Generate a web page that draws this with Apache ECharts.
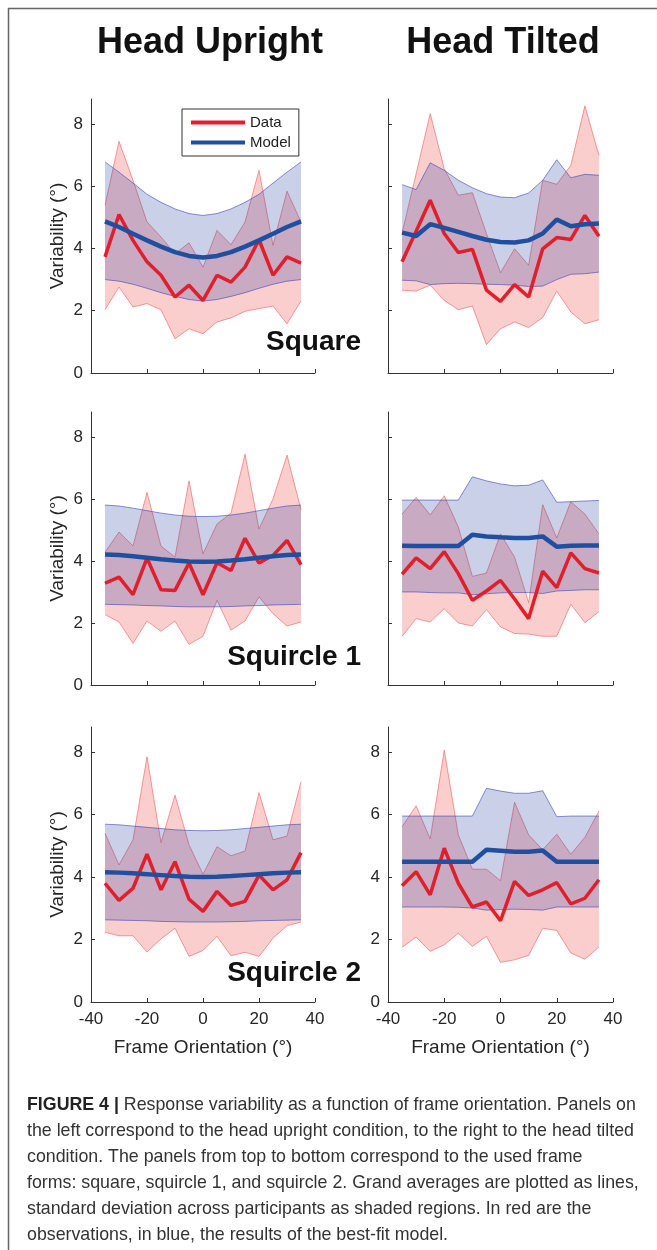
<!DOCTYPE html>
<html>
<head>
<meta charset="utf-8">
<script src="https://cdn.jsdelivr.net/npm/echarts@6/dist/echarts.min.js"></script>
<style>
html,body{margin:0;padding:0;background:#fff;}
#c{width:657px;height:1250px;}
</style>
</head>
<body>
<div id="c"></div>
<script>
// Frame orientations (deg)
const orient = [-35,-30,-25,-20,-15,-10,-5,0,5,10,15,20,25,30,35];
const xTicks = [-40,-20,0,20,40];
const yTicks = [0,2,4,6,8];

// Head upright, Square
const upSqData   = [3.73,5.09,4.26,3.57,3.14,2.44,2.82,2.33,3.14,2.92,3.40,4.28,3.14,3.73,3.53];
const upSqHi     = [5.39,7.44,6.19,4.85,4.37,3.83,4.18,3.40,4.58,4.12,4.85,6.51,4.10,5.84,4.85];
const upSqLo     = [2.03,2.76,2.12,2.23,2.03,1.10,1.42,1.26,1.64,1.77,1.98,2.07,2.15,1.58,2.31];
const upSqModel  = [4.87,4.69,4.47,4.26,4.06,3.88,3.76,3.71,3.76,3.88,4.06,4.26,4.47,4.69,4.87];
const upSqModHi  = [6.78,6.45,6.10,5.74,5.48,5.27,5.12,5.06,5.12,5.27,5.48,5.74,6.10,6.45,6.78];
const upSqModLo  = [3.00,2.95,2.85,2.72,2.58,2.46,2.36,2.31,2.36,2.46,2.58,2.72,2.85,2.95,3.00];

// Head tilted, Square
const tiSqData   = [3.57,4.55,5.55,4.48,3.87,3.97,2.66,2.30,2.84,2.44,3.99,4.35,4.29,5.06,4.39];
const tiSqHi     = [4.50,6.40,8.33,6.56,5.71,5.79,4.48,3.22,3.99,3.46,6.19,6.06,6.67,8.58,6.99];
const tiSqLo     = [2.66,2.63,2.82,2.33,2.03,2.15,0.91,1.42,1.64,1.46,1.78,2.63,1.96,1.58,1.71];
const tiSqModel  = [4.51,4.40,4.78,4.66,4.53,4.40,4.28,4.21,4.19,4.26,4.48,4.93,4.71,4.78,4.80];
const tiSqModHi  = [6.05,5.89,6.75,6.51,6.19,5.95,5.76,5.65,5.63,5.78,6.19,6.85,6.27,6.38,6.35];
const tiSqModLo  = [2.98,2.96,2.84,2.87,2.88,2.87,2.85,2.84,2.82,2.78,2.79,3.00,3.17,3.19,3.24];

// Head upright, Squircle 1
const upS1Data   = [3.28,3.48,2.91,4.09,3.07,3.05,3.93,2.91,3.94,3.69,4.73,3.93,4.18,4.66,3.88];
const upS1Hi     = [4.28,4.93,4.48,6.21,4.48,4.12,6.58,4.23,5.19,5.54,7.44,5.03,6.00,7.41,5.65];
const upS1Lo     = [2.27,2.03,1.34,2.06,1.73,2.06,1.31,1.57,2.73,1.77,2.06,2.84,2.30,1.90,2.03];
const upS1Model  = [4.21,4.19,4.15,4.10,4.05,4.01,3.98,3.97,3.98,4.01,4.05,4.10,4.15,4.19,4.21];
const upS1ModHi  = [5.80,5.77,5.70,5.62,5.54,5.48,5.44,5.43,5.44,5.48,5.54,5.62,5.70,5.77,5.80];
const upS1ModLo  = [2.60,2.59,2.58,2.56,2.55,2.53,2.52,2.52,2.52,2.53,2.55,2.56,2.58,2.59,2.60];

// Head tilted, Squircle 1
const tiS1Data   = [3.57,4.10,3.75,4.30,3.59,2.73,3.03,3.37,2.77,2.14,3.67,3.14,4.26,3.75,3.61];
const tiS1Hi     = [5.51,6.05,5.48,6.10,5.09,3.50,3.61,4.87,4.12,2.66,5.81,4.74,5.91,5.51,4.87];
const tiS1Lo     = [1.57,2.14,2.03,2.46,2.00,1.90,2.43,1.87,1.66,1.64,1.57,1.57,2.60,2.01,2.36];
const tiS1Model  = [4.49,4.48,4.48,4.48,4.48,4.84,4.79,4.76,4.74,4.74,4.79,4.46,4.49,4.50,4.50];
const tiS1ModHi  = [5.96,5.96,5.96,5.96,5.96,6.71,6.58,6.48,6.42,6.44,6.61,5.89,5.91,5.93,5.95];
const tiS1ModLo  = [3.00,3.00,2.98,2.97,2.97,2.91,2.94,2.97,2.98,2.98,2.95,3.03,3.05,3.07,3.07];

// Head upright, Squircle 2
const upS2Data   = [3.80,3.25,3.64,4.73,3.59,4.49,3.29,2.90,3.54,3.09,3.22,4.06,3.59,3.91,4.78];
const upS2Hi     = [5.40,4.39,5.19,7.85,5.10,6.62,5.03,4.09,4.97,4.68,4.83,6.70,5.19,5.31,7.05];
const upS2Lo     = [2.23,2.12,2.12,1.60,2.02,2.36,1.46,1.65,2.10,1.48,1.59,1.46,2.04,2.44,2.56];
const upS2Model  = [4.15,4.14,4.12,4.09,4.06,4.03,4.01,4.00,4.01,4.03,4.06,4.09,4.12,4.14,4.15];
const upS2ModHi  = [5.69,5.67,5.63,5.59,5.55,5.51,5.49,5.48,5.49,5.51,5.55,5.59,5.63,5.67,5.69];
const upS2ModLo  = [2.63,2.62,2.61,2.60,2.58,2.57,2.56,2.56,2.56,2.57,2.58,2.60,2.61,2.62,2.63];

// Head tilted, Squircle 2
const tiS2Data   = [3.72,4.17,3.43,4.92,3.80,3.04,3.20,2.60,3.86,3.41,3.59,3.82,3.14,3.32,3.91];
const tiS2Hi     = [5.61,6.28,5.22,8.06,5.35,4.25,4.25,3.88,6.39,5.35,4.87,5.37,4.73,5.27,6.11];
const tiS2Lo     = [1.75,2.08,1.62,1.83,2.20,1.78,2.10,1.27,1.35,1.49,2.36,2.29,1.57,1.37,1.76];
const tiS2Model  = [4.49,4.49,4.49,4.49,4.49,4.49,4.87,4.84,4.81,4.81,4.85,4.49,4.49,4.49,4.49];
const tiS2ModHi  = [5.95,5.95,5.95,5.95,5.95,5.95,6.84,6.75,6.68,6.68,6.76,5.93,5.95,5.95,5.95];
const tiS2ModLo  = [3.04,3.04,3.04,3.04,3.03,3.01,2.94,2.96,2.97,2.96,2.94,3.04,3.04,3.04,3.04];

const columnTitles = ['Head Upright','Head Tilted'];
const rowLabels = ['Square','Squircle 1','Squircle 2'];
const xName = 'Frame Orientation (°)';
const yName = 'Variability (°)';
const seriesNames = ['Data','Model'];
const captionLines = [
  '{b|FIGURE 4 |} Response variability as a function of frame orientation. Panels on',
  'the left correspond to the head upright condition, to the right to the head tilted',
  'condition. The panels from top to bottom correspond to the used frame',
  'forms: square, squircle 1, and squircle 2. Grand averages are plotted as lines,',
  'standard deviation across participants as shaded regions. In red are the',
  'observations, in blue, the results of the best-fit model.'
];

const panels = [
  [upSqData,upSqHi,upSqLo,upSqModel,upSqModHi,upSqModLo],
  [tiSqData,tiSqHi,tiSqLo,tiSqModel,tiSqModHi,tiSqModLo],
  [upS1Data,upS1Hi,upS1Lo,upS1Model,upS1ModHi,upS1ModLo],
  [tiS1Data,tiS1Hi,tiS1Lo,tiS1Model,tiS1ModHi,tiS1ModLo],
  [upS2Data,upS2Hi,upS2Lo,upS2Model,upS2ModHi,upS2ModLo],
  [tiS2Data,tiS2Hi,tiS2Lo,tiS2Model,tiS2ModHi,tiS2ModLo]
];

const FONT = "'Liberation Sans', Arial, Helvetica, sans-serif";
const AX = '#333333';
const RED = '#e11f2c', BLUE = '#1f4f9f';
const RED_FILL = 'rgba(240,60,60,0.25)', RED_EDGE = 'rgba(232,80,80,0.55)';
const BLUE_FILL = 'rgba(30,50,160,0.23)', BLUE_EDGE = 'rgba(60,70,180,0.6)';

const colLeft = [91, 388], colWidth = [224, 225];
const rowTop = [99, 412, 727], rowHeight = [274, 273, 275];

function bandSeries(gi, lo, hi, fill, edge, z) {
  return {
    type: 'custom', xAxisIndex: gi, yAxisIndex: gi, silent: true, z,
    data: orient.map((x, i) => [x, lo[i], hi[i]]),
    encode: {x: 0, y: [1, 2]},
    renderItem: function (params, api) {
      if (params.dataIndex !== 0) return null;
      const top = orient.map((x, i) => api.coord([x, hi[i]]));
      const bot = orient.map((x, i) => api.coord([x, lo[i]]));
      const poly = top.concat(bot.slice().reverse());
      return {
        type: 'group',
        children: [
          {type: 'polygon', shape: {points: poly}, style: {fill: fill, stroke: null}},
          {type: 'polyline', shape: {points: top}, style: {fill: null, stroke: edge, lineWidth: 1}},
          {type: 'polyline', shape: {points: bot}, style: {fill: null, stroke: edge, lineWidth: 1}}
        ]
      };
    }
  };
}

const grids = [], xAxes = [], yAxes = [], series = [];
panels.forEach((p, gi) => {
  const row = Math.floor(gi / 2), col = gi % 2;
  grids.push({left: colLeft[col], top: rowTop[row], width: colWidth[col], height: rowHeight[row], containLabel: false});
  const bottom = row === 2;
  xAxes.push({
    gridIndex: gi, type: 'value', min: -40, max: 40, interval: 20,
    axisLine: {onZero: false, lineStyle: {color: AX, width: 1}},
    axisTick: {inside: true, length: 4, lineStyle: {color: AX}},
    splitLine: {show: false},
    axisLabel: {show: bottom, fontSize: 17, color: '#262626', fontFamily: FONT, margin: 9},
    name: bottom ? xName : '', nameLocation: 'middle', nameGap: 36,
    nameTextStyle: {fontSize: 19, color: '#262626', fontFamily: FONT}
  });
  const showY = col === 0 || row === 2;
  yAxes.push({
    gridIndex: gi, type: 'value', min: 0, max: 8.8, interval: 2,
    axisLine: {show: true, onZero: false, lineStyle: {color: AX, width: 1}},
    axisTick: {show: true, inside: true, length: 4, lineStyle: {color: AX}, customValues: yTicks},
    splitLine: {show: false},
    axisLabel: {show: showY, fontSize: 17, color: '#262626', fontFamily: FONT, margin: 8, customValues: yTicks},
    name: col === 0 ? yName : '', nameLocation: 'middle', nameGap: 24,
    nameTextStyle: {fontSize: 19, color: '#262626', fontFamily: FONT}
  });
  const [d, dh, dl, m, mh, ml] = p;
  series.push(bandSeries(gi, dl, dh, RED_FILL, RED_EDGE, 2));
  series.push(bandSeries(gi, ml, mh, BLUE_FILL, BLUE_EDGE, 3));
  series.push({type: 'line', name: seriesNames[0], xAxisIndex: gi, yAxisIndex: gi, symbol: 'none', z: 4,
    itemStyle: {color: RED}, lineStyle: {color: RED, width: 3.5}, data: orient.map((x, i) => [x, d[i]])});
  series.push({type: 'line', name: seriesNames[1], xAxisIndex: gi, yAxisIndex: gi, symbol: 'none', z: 5,
    itemStyle: {color: BLUE}, lineStyle: {color: BLUE, width: 4.5}, data: orient.map((x, i) => [x, m[i]])});
});

const graphics = [
  {type: 'line', shape: {x1: 8, y1: 8.5, x2: 657, y2: 8.5}, style: {stroke: '#666', lineWidth: 1.5}},
  {type: 'line', shape: {x1: 8.5, y1: 8, x2: 8.5, y2: 1250}, style: {stroke: '#666', lineWidth: 1.5}},
  {type: 'text', x: 210, y: 43, style: {text: columnTitles[0], fontSize: 36, fontWeight: 'bold', fontFamily: FONT, fill: '#111', align: 'center', verticalAlign: 'middle'}},
  {type: 'text', x: 503, y: 43, style: {text: columnTitles[1], fontSize: 36, fontWeight: 'bold', fontFamily: FONT, fill: '#111', align: 'center', verticalAlign: 'middle'}}
];
const labelY = [342, 657, 973];
rowLabels.forEach((t, i) => graphics.push({type: 'text', x: 361, y: labelY[i], z: 100,
  style: {text: t, fontSize: 28, fontWeight: 'bold', fontFamily: FONT, fill: '#111', align: 'right', verticalAlign: 'middle'}}));
captionLines.forEach((t, i) => graphics.push({type: 'text', x: 27, y: 1105 + i * 26,
  style: {text: t, fontSize: 17.8, fontFamily: FONT, fill: '#333', align: 'left', verticalAlign: 'middle',
    rich: {b: {fontSize: 17.8, fontWeight: 'bold', fontFamily: FONT, fill: '#222'}}}}));

const chart = echarts.init(document.getElementById('c'), null, {renderer: 'canvas'});
chart.setOption({
  animation: false,
  backgroundColor: '#fff',
  grid: grids, xAxis: xAxes, yAxis: yAxes, series,
  legend: {
    data: seriesNames, left: 182, top: 109, orient: 'vertical',
    padding: [6, 8, 6, 9], itemGap: 5, itemWidth: 54, itemHeight: 4, icon: 'rect',
    borderColor: '#333', borderWidth: 1, backgroundColor: '#fff',
    textStyle: {fontSize: 15, color: '#222', fontFamily: FONT}, selectedMode: false
  },
  graphic: graphics
});
</script>
</body>
</html>
